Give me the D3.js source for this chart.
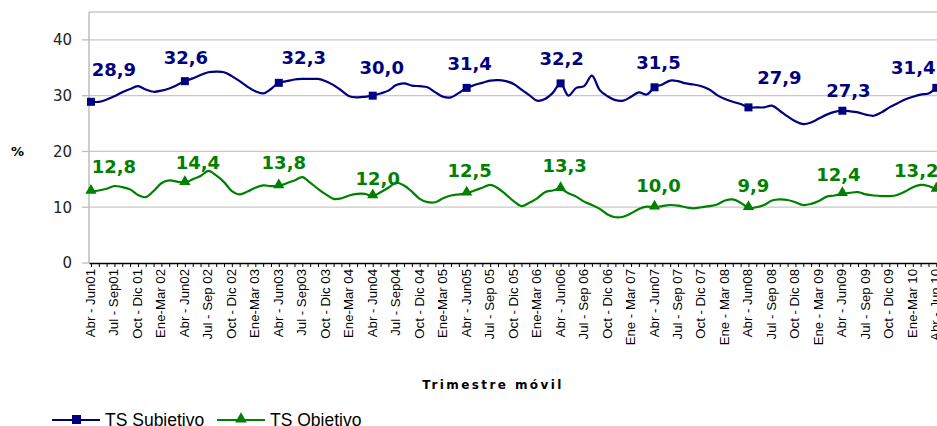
<!DOCTYPE html>
<html>
<head>
<meta charset="utf-8">
<script src="https://cdn.jsdelivr.net/npm/d3@7"></script>
<style>
  body { margin: 0; background: #fff; }
  svg { display: block; }
</style>
</head>
<body>
<svg id="chart" width="937" height="426"></svg>
<script>
// quarter labels, one for every third month
var quarters = ["Abr - Jun01","Jul - Sep01","Oct - Dic 01","Ene-Mar 02","Abr - Jun02","Jul - Sep 02",
  "Oct - Dic 02","Ene-Mar 03","Abr - Jun03","Jul - Sep03","Oct - Dic 03","Ene-Mar 04","Abr - Jun04",
  "Jul - Sep04","Oct - Dic 04","Ene-Mar 05","Abr - Jun05","Jul - Sep 05","Oct - Dic 05","Ene-Mar 06",
  "Abr - Jun06","Jul - Sep 06","Oct - Dic 06","Ene - Mar 07","Abr - Jun07","Jul - Sep 07","Oct - Dic 07",
  "Ene - Mar 08","Abr - Jun08","Jul - Sep 08","Oct - Dic 08","Ene - Mar 09","Abr - Jun09","Jul - Sep 09",
  "Oct - Dic 09","Ene-Mar 10","Abr - Jun 10"];

// moving quarter, monthly values Abr-Jun01 .. Abr-Jun10
var subjetivo = [28.9,28.9,29.3,29.9,30.6,31.2,31.7,31.1,30.7,30.9,31.3,31.9,
  32.6,33.1,33.7,34.2,34.3,34.2,33.5,32.6,31.6,30.8,30.4,31.2,
  32.3,32.6,32.9,33.0,33.0,33.0,32.6,31.9,30.9,29.9,29.7,29.8,
  30.0,30.4,30.9,31.9,32.2,31.8,31.7,31.5,30.6,29.8,29.7,30.5,
  31.4,31.9,32.3,32.7,32.8,32.6,32.1,31.1,30.1,29.1,29.4,30.5,
  32.2,30.0,31.4,31.7,33.6,31.0,29.9,29.2,29.1,29.8,30.6,30.2,
  31.5,32.0,32.7,32.6,32.2,32.0,31.7,31.1,30.1,29.4,28.9,28.5,
  27.9,27.9,27.9,28.2,27.3,26.3,25.4,24.9,25.2,25.9,26.6,27.1,
  27.3,27.2,27.0,26.6,26.4,27.0,27.9,28.6,29.3,29.8,30.2,30.4,
  31.4];

var objetivo = [12.8,13.0,13.3,13.8,13.6,13.2,12.2,11.8,12.9,14.3,14.8,14.6,
  14.4,15.0,15.6,16.5,15.7,14.5,12.9,12.3,12.8,13.5,13.9,13.8,
  13.8,14.3,14.8,15.4,14.4,13.3,12.3,11.5,11.6,12.1,12.4,12.4,
  12.0,12.7,13.5,14.4,13.9,12.8,11.5,10.9,10.9,11.6,12.1,12.3,
  12.5,13.0,13.5,14.0,13.4,12.3,11.1,10.2,10.8,11.6,12.7,13.0,
  13.3,12.5,11.9,11.0,10.4,9.7,8.7,8.2,8.3,8.9,9.7,10.1,
  10.0,10.2,10.4,10.3,10.0,9.8,10.0,10.2,10.5,11.2,11.4,10.8,
  9.9,10.0,10.4,11.2,11.4,11.3,10.9,10.4,10.6,11.1,11.9,12.1,
  12.4,12.6,12.7,12.3,12.1,12.0,12.0,12.2,12.8,13.6,14.0,13.8,
  13.2];

var yTicks = [0, 10, 20, 30, 40];
var markerIdx = d3.range(0, 109, 12);

// hand placed data labels (offset from the marker)
var subjNudge = [[23,-26],[1,-17],[25,-19],[9,-22],[3,-18],[1,-18],[4,-18],[31,-23],[6,-14],[-23,-14]];
var objNudge = [[23,-19],[13,-14],[5,-17],[5,-11],[3,-16],[4,-17],[4,-15],[5,-16],[-4,-13],[-20,-12]];

var svg = d3.select("#chart");
var navy = "#000080", green = "#008000";

var x = d3.scaleLinear().domain([-0.25, 108]).range([89, 936.3]);
var y = d3.scaleLinear().domain([0, 45]).range([263, 12]);

// grid + frame
svg.append("g")
  .selectAll("line")
  .data([10, 20, 30, 40, 45])
  .enter().append("line")
  .attr("x1", 89).attr("x2", 937)
  .attr("y1", function(d) { return y(d); })
  .attr("y2", function(d) { return y(d); })
  .attr("stroke", "#c8c8c8").attr("stroke-width", 1.3);

svg.append("line")
  .attr("x1", 89).attr("x2", 89).attr("y1", y(45)).attr("y2", y(0))
  .attr("stroke", "#bdbdbd").attr("stroke-width", 1.5);

// y axis ticks + labels
var yAxis = svg.append("g");
yAxis.selectAll("line").data(yTicks).enter().append("line")
  .attr("x1", 82).attr("x2", 89)
  .attr("y1", function(d) { return y(d); }).attr("y2", function(d) { return y(d); })
  .attr("stroke", "#bdbdbd").attr("stroke-width", 1.3);
yAxis.selectAll("text").data(yTicks).enter().append("text")
  .attr("x", 72).attr("y", function(d) { return y(d); })
  .attr("dy", "0.36em")
  .attr("text-anchor", "end")
  .style("font", "15px 'DejaVu Sans'")
  .style("fill", "#222")
  .text(function(d) { return d; });

svg.append("text")
  .attr("x", 11).attr("y", 156)
  .style("font", "bold 13px 'DejaVu Sans'")
  .text("%");

// x axis: monthly ticks, quarter labels
svg.append("g")
  .attr("transform", "translate(0," + y(0) + ")")
  .call(d3.axisBottom(x).tickValues(d3.range(0, 109)).tickSize(4).tickSizeOuter(0).tickFormat(""))
  .call(function(g) {
    g.select(".domain").attr("stroke", "#000").attr("stroke-width", 1.3);
    g.selectAll(".tick line").attr("stroke", "#000");
  });

svg.append("g")
  .selectAll("text")
  .data(quarters)
  .enter().append("text")
  .attr("transform", function(d, i) {
    return "translate(" + (x(i * 3) + 4) + ",269) rotate(-90) scale(1.1,1)";
  })
  .attr("text-anchor", "end")
  .style("font", "12px 'Liberation Sans', Arial")
  .style("fill", "#000")
  .text(function(d) { return d; });

svg.append("text")
  .attr("x", 493).attr("y", 389)
  .attr("text-anchor", "middle")
  .style("font", "bold 12px 'DejaVu Sans'")
  .style("letter-spacing", "2.4px")
  .text("Trimestre móvil");

// lines
var line = d3.line()
  .x(function(d, i) { return x(i); })
  .y(function(d) { return y(d); })
  .curve(d3.curveCatmullRom.alpha(0.5));

svg.append("path").datum(objetivo)
  .attr("d", line).attr("fill", "none")
  .attr("stroke", green).attr("stroke-width", 2.2);
svg.append("path").datum(subjetivo)
  .attr("d", line).attr("fill", "none")
  .attr("stroke", navy).attr("stroke-width", 2.2);

var tri = d3.symbol().type(d3.symbolTriangle).size(55);

svg.append("g").selectAll("rect").data(markerIdx).enter().append("rect")
  .attr("x", function(i) { return x(i) - 4; })
  .attr("y", function(i) { return y(subjetivo[i]) - 4; })
  .attr("width", 8).attr("height", 8)
  .attr("fill", navy);

svg.append("g").selectAll("path").data(markerIdx).enter().append("path")
  .attr("d", tri)
  .attr("transform", function(i) { return "translate(" + x(i) + "," + (y(objetivo[i]) - 1) + ")"; })
  .attr("fill", green);

function fmt(v) { return d3.format(".1f")(v).replace(".", ","); }

svg.append("g").selectAll("text").data(markerIdx).enter().append("text")
  .attr("x", function(i, k) { return x(i) + subjNudge[k][0]; })
  .attr("y", function(i, k) { return y(subjetivo[i]) + subjNudge[k][1]; })
  .attr("text-anchor", "middle")
  .style("font", "bold 18px 'DejaVu Sans'")
  .style("fill", navy)
  .text(function(i) { return fmt(subjetivo[i]); });

svg.append("g").selectAll("text").data(markerIdx).enter().append("text")
  .attr("x", function(i, k) { return x(i) + objNudge[k][0]; })
  .attr("y", function(i, k) { return y(objetivo[i]) + objNudge[k][1]; })
  .attr("text-anchor", "middle")
  .style("font", "bold 18px 'DejaVu Sans'")
  .style("fill", green)
  .text(function(i) { return fmt(objetivo[i]); });

// legend
var legend = svg.append("g");
legend.append("line").attr("x1", 52).attr("x2", 100).attr("y1", 420).attr("y2", 420)
  .attr("stroke", navy).attr("stroke-width", 2.2);
legend.append("rect").attr("x", 72).attr("y", 415).attr("width", 9).attr("height", 9).attr("fill", navy);
legend.append("text").attr("x", 105).attr("y", 426)
  .style("font", "17.5px 'Liberation Sans', Arial").text("TS Subjetivo");

legend.append("line").attr("x1", 217).attr("x2", 265).attr("y1", 420).attr("y2", 420)
  .attr("stroke", green).attr("stroke-width", 2.2);
legend.append("path").attr("d", d3.symbol().type(d3.symbolTriangle).size(60))
  .attr("transform", "translate(241,419)").attr("fill", green);
legend.append("text").attr("x", 270).attr("y", 426)
  .style("font", "17.5px 'Liberation Sans', Arial").text("TS Objetivo");
</script>
</body>
</html>
